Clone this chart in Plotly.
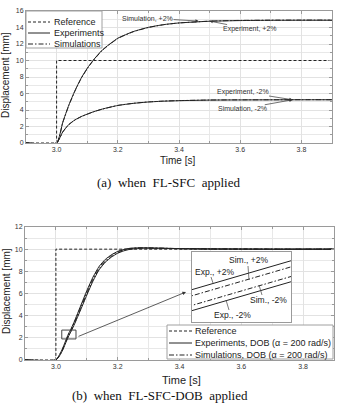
import plotly.graph_objects as go

W, H = 340, 405

# ---------------- data (a) FL-SFC ----------------
t_a = [2.9, 3.0, 3.02, 3.04, 3.06, 3.08, 3.10, 3.12, 3.15, 3.20, 3.25, 3.30, 3.35, 3.40, 3.50, 3.60, 3.70, 3.80, 3.90]
exp_p2_a = [0, 0, 2.5, 4.6, 6.35, 7.85, 9.05, 10.05, 11.3, 12.7, 13.5, 14.02, 14.35, 14.55, 14.76, 14.84, 14.87, 14.88, 14.88]
sim_p2_a = [0, 0, 2.45, 4.55, 6.3, 7.8, 9.0, 10.0, 11.25, 12.66, 13.48, 14.0, 14.34, 14.55, 14.77, 14.86, 14.89, 14.9, 14.9]
exp_m2_a = [0, 0, 1.35, 2.25, 2.8, 3.2, 3.5, 3.78, 4.12, 4.55, 4.8, 4.97, 5.07, 5.13, 5.2, 5.22, 5.23, 5.24, 5.24]
sim_m2_a = [0, 0, 1.32, 2.22, 2.78, 3.18, 3.49, 3.77, 4.11, 4.55, 4.81, 4.98, 5.08, 5.14, 5.21, 5.23, 5.24, 5.25, 5.25]

# ---------------- data (b) FL-SFC-DOB ----------------
t_b = [2.9, 3.0, 3.01, 3.02, 3.03, 3.04, 3.05, 3.06, 3.08, 3.10, 3.12, 3.14, 3.16, 3.18, 3.20,
       3.22, 3.24, 3.26, 3.28, 3.30, 3.35, 3.40, 3.50, 3.60, 3.70, 3.80, 3.90]
exp_p2_b = [0, 0, 0.40, 0.93, 1.62, 2.32, 2.87, 3.50, 4.88, 6.25, 7.48, 8.45, 9.08, 9.50, 9.80,
            9.98, 10.08, 10.12, 10.12, 10.11, 10.08, 10.05, 10.02, 10.01, 10.0, 10.0, 10.0]
sim_p2_b = [0, 0, 0.37, 0.89, 1.56, 2.25, 2.80, 3.42, 4.78, 6.14, 7.38, 8.37, 9.01, 9.45, 9.76,
            9.95, 10.06, 10.10, 10.12, 10.11, 10.08, 10.05, 10.02, 10.01, 10.0, 10.0, 10.0]
sim_m2_b = [0, 0, 0.33, 0.82, 1.47, 2.14, 2.69, 3.30, 4.62, 5.96, 7.22, 8.22, 8.88, 9.34, 9.67,
            9.89, 10.02, 10.08, 10.10, 10.10, 10.08, 10.05, 10.02, 10.01, 10.0, 10.0, 10.0]
exp_m2_b = [0, 0, 0.30, 0.78, 1.42, 2.08, 2.63, 3.22, 4.52, 5.85, 7.12, 8.14, 8.82, 9.29, 9.63,
            9.85, 9.99, 10.05, 10.09, 10.09, 10.07, 10.05, 10.02, 10.01, 10.0, 10.0, 10.0]

ref_t = [2.9, 3.0, 3.0, 3.9]
ref_y = [0, 0, 10, 10]

x_ticks = [3.0, 3.2, 3.4, 3.6, 3.8]
x_tick_text = ["3.0", "3.2", "3.4", "3.6", "3.8"]

zoom_box = dict(t0=3.019, t1=3.065, y0=1.9, y1=2.7)
inset_t_range = [3.040, 3.046]
inset_y_range = [1.95, 2.75]

# ---------------- styling ----------------
FONT = "Liberation Sans"
LC = "#222222"
DASH_REF = "3px,2px"
DASH_SIM = "5px,2px,1.5px,2px"


def px(x):
    return x / W


def py(y):
    return 1 - y / H


fig = go.Figure()


def add_line(x, y, dash, xa, ya, shape="spline"):
    fig.add_trace(go.Scatter(
        x=x, y=y, mode="lines", xaxis=xa, yaxis=ya, showlegend=False, hoverinfo="skip",
        line=dict(color=LC, width=1, dash=dash, shape=shape,
                  smoothing=0.5 if shape == "spline" else None)))


# (a)
add_line(ref_t, ref_y, DASH_REF, "x", "y", "linear")
add_line(t_a, sim_p2_a, DASH_SIM, "x", "y")
add_line(t_a, exp_p2_a, "solid", "x", "y")
add_line(t_a, sim_m2_a, DASH_SIM, "x", "y")
add_line(t_a, exp_m2_a, "solid", "x", "y")

# (b)
add_line(ref_t, ref_y, DASH_REF, "x2", "y2", "linear")
for ser, d in [(sim_p2_b, DASH_SIM), (sim_m2_b, DASH_SIM), (exp_p2_b, "solid"), (exp_m2_b, "solid")]:
    add_line(t_b, ser, d, "x2", "y2")

# inset (same data, zoomed)
for ser, d in [(sim_p2_b, DASH_SIM), (sim_m2_b, DASH_SIM), (exp_p2_b, "solid"), (exp_m2_b, "solid")]:
    add_line(t_b, ser, d, "x3", "y3", "linear")

axis_common = dict(
    showline=True, linecolor="#9a9a9a", linewidth=1, mirror="allticks",
    ticks="inside", ticklen=3, tickcolor="#9a9a9a",
    tickfont=dict(family=FONT, size=7, color="#333"),
    showgrid=True, gridcolor="#e2e2e2", gridwidth=1, zeroline=False,
    automargin=False, fixedrange=True,
)

fig.update_layout(
    width=W, height=H, margin=dict(l=0, r=0, t=0, b=0),
    paper_bgcolor="white", plot_bgcolor="white",
    xaxis=dict(domain=[px(26), px(332)], anchor="y", range=[2.9, 3.9],
               tickvals=x_ticks, ticktext=x_tick_text,
               minor=dict(dtick=0.1, tick0=2.9, ticks="inside", ticklen=2, tickcolor="#9a9a9a",
                          showgrid=True, gridcolor="#e8e8e8"), **axis_common),
    yaxis=dict(domain=[py(143), py(11)], anchor="x", range=[0, 16], dtick=2, tick0=0,
               minor=dict(dtick=1, ticks="inside", ticklen=2, tickcolor="#9a9a9a",
                          showgrid=True, gridcolor="#e8e8e8"), **axis_common),
    xaxis2=dict(domain=[px(25), px(334)], anchor="y2", range=[2.9, 3.9],
                tickvals=x_ticks, ticktext=x_tick_text,
                minor=dict(dtick=0.1, tick0=2.9, ticks="inside", ticklen=2, tickcolor="#9a9a9a",
                           showgrid=True, gridcolor="#e8e8e8"), **axis_common),
    yaxis2=dict(domain=[py(360), py(227)], anchor="x2", range=[0, 12], dtick=2, tick0=0,
                minor=dict(dtick=1, ticks="inside", ticklen=2, tickcolor="#9a9a9a",
                           showgrid=True, gridcolor="#e8e8e8"), **axis_common),
    xaxis3=dict(domain=[px(192), px(291)], anchor="y3", range=inset_t_range,
                showline=True, mirror=True, linecolor="#9a9a9a", linewidth=1,
                showticklabels=False, ticks="", showgrid=False, zeroline=False, fixedrange=True),
    yaxis3=dict(domain=[py(322), py(252)], anchor="x3", range=inset_y_range,
                showline=True, mirror=True, linecolor="#9a9a9a", linewidth=1,
                showticklabels=False, ticks="", showgrid=False, zeroline=False, fixedrange=True),
)

shapes = []
# white background for inset
shapes.append(dict(type="rect", xref="x3 domain", yref="y3 domain", x0=0, x1=1, y0=0, y1=1,
                   fillcolor="white", line=dict(width=0), layer="below"))
# zoom rectangle on main curve
shapes.append(dict(type="rect", xref="x2", yref="y2", x0=zoom_box["t0"], x1=zoom_box["t1"],
                   y0=zoom_box["y0"], y1=zoom_box["y1"], line=dict(color="#444", width=1)))

annotations = []


def legend_box(x0, x1, y0, y1, rows, sx0, sx1, tx, size):
    shapes.append(dict(type="rect", xref="paper", yref="paper", x0=px(x0), x1=px(x1),
                       y0=py(y1), y1=py(y0), fillcolor="white",
                       line=dict(color="#a0a0a0", width=1), layer="above"))
    for yy, dash, label in rows:
        shapes.append(dict(type="line", xref="paper", yref="paper", x0=px(sx0), x1=px(sx1),
                           y0=py(yy), y1=py(yy), line=dict(color=LC, width=1, dash=dash),
                           layer="above"))
        annotations.append(dict(xref="paper", yref="paper", x=px(tx), y=py(yy), text=label,
                                showarrow=False, xanchor="left", yanchor="middle",
                                font=dict(family=FONT, size=size, color="#222")))


legend_box(26, 102, 11, 48,
           [(22, DASH_REF, "Reference"), (33, "solid", "Experiments"), (44, DASH_SIM, "Simulations")],
           28, 50, 52, 9)
legend_box(167, 333, 325, 359,
           [(331, DASH_REF, "Reference"),
            (343, "solid", "Experiments, DOB (α = 200 rad/s)"),
            (355, DASH_SIM, "Simulations, DOB (α = 200 rad/s)")],
           169, 192, 193, 9)

# callouts on (a)
def callout(text, t, y, ax, ay):
    annotations.append(dict(xref="x", yref="y", x=t, y=y, ax=ax, ay=ay, text=text,
                            showarrow=True, arrowhead=2, arrowsize=0.9, arrowwidth=0.7,
                            arrowcolor="#333", standoff=0, borderpad=0,
                            font=dict(family=FONT, size=7, color="#333")))


callout("Simulation, +2%", 3.464, 14.78, -51, -3)
callout("Experiment, +2%", 3.50, 14.78, 40, 8)
callout("Experiment, -2%", 3.771, 5.24, -50, -8)
callout("Simulation, -2%", 3.771, 5.24, -50, 9)

# inset labels with leader lines
inset_labels = [
    ("Sim., +2%", 248, 260, (248, 266), (249, 280)),
    ("Exp., +2%", 214, 272, (211, 277), (213, 283)),
    ("Sim., -2%", 268, 300, (262, 295), (259, 285)),
    ("Exp., -2%", 232, 315, (229, 310), (226, 300)),
]
for text, cx, cy, p0, p1 in inset_labels:
    annotations.append(dict(xref="paper", yref="paper", x=px(cx), y=py(cy), text=text,
                            showarrow=False, xanchor="center", yanchor="middle",
                            font=dict(family=FONT, size=8.5, color="#222")))
    shapes.append(dict(type="line", xref="paper", yref="paper", x0=px(p0[0]), y0=py(p0[1]),
                       x1=px(p1[0]), y1=py(p1[1]), line=dict(color="#444", width=0.7),
                       layer="above"))

# arrow from zoom box to inset
annotations.append(dict(xref="paper", yref="paper", x=px(186), y=py(292), ax=-109, ay=45,
                        text="", showarrow=True, arrowhead=2, arrowsize=0.9, arrowwidth=0.8,
                        arrowcolor="#333", standoff=0))

# axis titles
for txt, x, y, ang, size in [
    ("Displacement [mm]", 6, 75, -90, 10),
    ("Time [s]", 177, 161, 0, 10),
    ("Displacement [mm]", 6, 291, -90, 10),
    ("Time [s]", 181, 380, 0, 11),
]:
    annotations.append(dict(xref="paper", yref="paper", x=px(x), y=py(y), text=txt,
                            textangle=ang, showarrow=False, xanchor="center", yanchor="middle",
                            font=dict(family=FONT, size=size, color="#222")))

NB = "\u00a0"
for txt, x, y in [
    (f"(a){NB}{NB}when{NB}{NB}FL-SFC{NB}{NB}applied", 168, 182),
    (f"(b){NB}{NB}when{NB}{NB}FL-SFC-DOB{NB}{NB}applied", 160, 395),
]:
    annotations.append(dict(xref="paper", yref="paper", x=px(x), y=py(y), text=txt,
                            showarrow=False, xanchor="center", yanchor="middle",
                            font=dict(family="Liberation Serif", size=13, color="#111")))

fig.update_layout(shapes=shapes, annotations=annotations)

fig.write_html("out.html")
